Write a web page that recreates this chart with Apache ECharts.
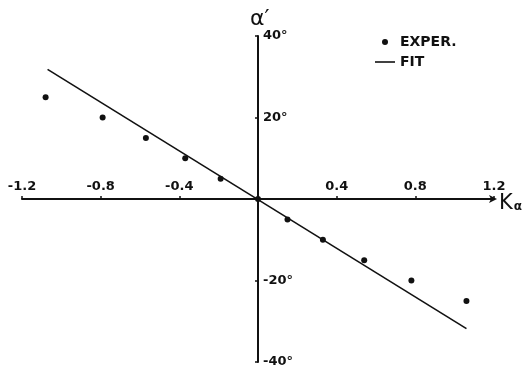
<!DOCTYPE html>
<html>
<head>
<meta charset="utf-8">
<script src="https://cdn.jsdelivr.net/npm/echarts@6/dist/echarts.min.js"></script>
<style>
  html, body { margin: 0; padding: 0; background: #fff; }
  #chart { width: 530px; height: 369px; }
</style>
</head>
<body>
<div id="chart"></div>
<script>
// Measured points: K_alpha versus alpha' (degrees)
const experK = [-1.08, -0.79, -0.57, -0.37, -0.19, 0, 0.15, 0.33, 0.54, 0.78, 1.06];
const experAlpha = [25, 20, 15, 10, 5, 0, -5, -10, -15, -20, -25];
// Straight-line fit, drawn between its two end points
const fitK = [-1.07, 1.06];
const fitAlpha = [31.8, -31.8];
// Axis ticks
const xTicks = [-1.2, -0.8, -0.4, 0.4, 0.8, 1.2];
const yTicks = [-40, -20, 20, 40];

const ink = '#111';
const font = 'DejaVu Sans';

const chart = echarts.init(document.getElementById('chart'), null, { renderer: 'canvas' });

const option = {
  animation: false,
  backgroundColor: '#fff',
  grid: { left: 22, right: 36, top: 36, bottom: 7, containLabel: false, outerBoundsMode: 'none' },
  legend: {
    left: 370, top: 30,
    orient: 'vertical',
    itemWidth: 20, itemHeight: 6, itemGap: 6,
    textStyle: { fontFamily: font, fontSize: 14, fontWeight: 'bold', color: ink },
    data: [
      { name: 'EXPER.', icon: 'circle' },
      { name: 'FIT', icon: 'path://M0,0L20,0L20,1.6L0,1.6Z' }
    ]
  },
  xAxis: {
    type: 'value', min: -1.2, max: 1.2, interval: 0.4,
    position: 'bottom', offset: 0,
    axisLine: { onZero: false, lineStyle: { color: ink, width: 2 }, symbol: ['none', 'arrow'], symbolSize: [6, 8], symbolOffset: [0, 3] },
    axisTick: { show: true, inside: true, length: 3, lineStyle: { color: ink, width: 1.5 } },
    axisLabel: {
      inside: true, margin: 6,
      fontFamily: font, fontSize: 13, fontWeight: 'bold', color: ink,
      formatter: v => xTicks.some(t => Math.abs(t - v) < 1e-6) ? v.toFixed(1) : ''
    },
    splitLine: { show: false },
    name: '{k|K}{a|α}', nameLocation: 'end', nameGap: 5, nameMoveOverlap: false,
    nameTextStyle: {
      fontFamily: font, color: ink, align: 'left', verticalAlign: 'top',
      rich: {
        k: { fontFamily: font, fontSize: 21, lineHeight: 10, color: ink },
        a: { fontFamily: font, fontSize: 12, fontWeight: 'bold', lineHeight: 10, color: ink, padding: [6, 0, 0, 1] }
      }
    }
  },
  yAxis: {
    type: 'value', min: -40, max: 40, interval: 20,
    position: 'left', offset: 0,
    axisLine: { onZero: false, lineStyle: { color: ink, width: 2 } },
    axisTick: { show: true, length: 3, lineStyle: { color: ink, width: 1.5 } },
    axisLabel: {
      inside: true, margin: 5,
      fontFamily: font, fontSize: 13, fontWeight: 'bold', color: ink,
      formatter: v => yTicks.includes(v) ? v + '°' : ''
    },
    splitLine: { show: false },
    name: 'α′', nameLocation: 'end', nameGap: 6, nameMoveOverlap: false,
    nameTextStyle: { fontFamily: font, fontSize: 22, color: ink, align: 'left', padding: [0, 0, 0, -8] }
  },
  series: [
    {
      name: 'EXPER.', type: 'scatter',
      symbol: 'circle', symbolSize: 6,
      itemStyle: { color: ink, opacity: 1 },
      data: experK.map((k, i) => [k, experAlpha[i]]),
      z: 5
    },
    {
      name: 'FIT', type: 'line',
      showSymbol: false, symbol: 'none',
      lineStyle: { color: ink, width: 1.6 },
      itemStyle: { color: ink },
      data: fitK.map((k, i) => [k, fitAlpha[i]])
    }
  ]
};
chart.setOption(option);

// Move both axes (line, ticks and labels together) so they cross at the origin
const origin = chart.convertToPixel({ gridIndex: 0 }, [0, 0]);
const rect = chart.getModel().getComponent('grid', 0).coordinateSystem.getRect();
chart.setOption({
  xAxis: { offset: origin[1] - (rect.y + rect.height) },
  yAxis: { offset: rect.x - origin[0] }
});
</script>
</body>
</html>
